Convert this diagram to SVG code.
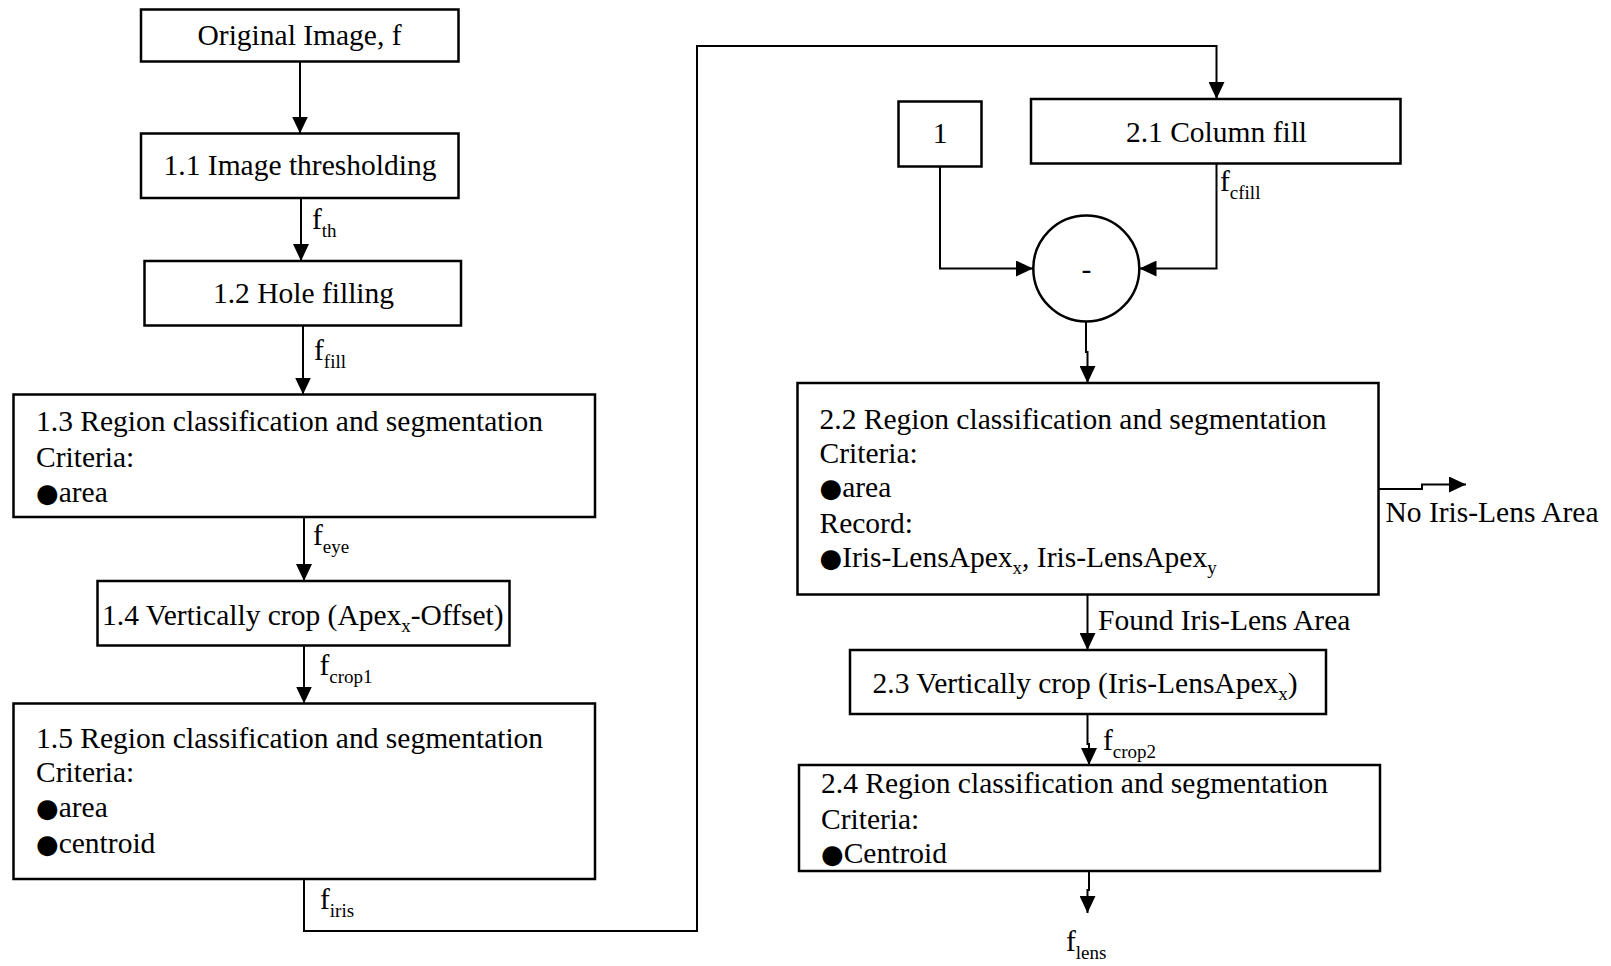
<svg xmlns="http://www.w3.org/2000/svg" width="1611" height="966" viewBox="0 0 1611 966">
  <style>
    .box { fill: #fff; stroke: #000; stroke-width: 2.5; }
    .wire { fill: none; stroke: #000; stroke-width: 2; }
    text { font-family: "Liberation Serif", "Times New Roman", "DejaVu Serif", serif; font-size: 29.5px; fill: #000; }
    .mid { text-anchor: middle; }
    .sub { font-size: 19px; }
    .dot { font-family: "DejaVu Sans", sans-serif; font-size: 26px; }
  </style>
  <defs>
    <marker id="arrow" viewBox="0 0 17 16" markerWidth="17" markerHeight="16" refX="17" refY="8" orient="auto" markerUnits="userSpaceOnUse">
      <path d="M0,0 L17,8 L0,16 z" fill="#000"/>
    </marker>
  </defs>

  <!-- connectors -->
  <g id="connectors" class="wire" marker-end="url(#arrow)">
    <path d="M300,61.5 V133.5"/>
    <path d="M301,198 V261"/>
    <path d="M303,325.5 V394.5"/>
    <path d="M304,517 V581"/>
    <path d="M304,645.5 V703.5"/>
    <path d="M304,879 V931 H697 V46 H1216.5 V99"/>
    <path d="M940,166.5 V268.5 H1033"/>
    <path d="M1216.5,163.5 V268.5 H1139.5"/>
    <path d="M1086,321.5 V352 H1087.5 V383"/>
    <path d="M1379,489 H1422 V484.5 H1466"/>
    <path d="M1087.5,594.5 V650"/>
    <path d="M1087.5,714 V744 H1089 V765"/>
    <path d="M1089,871 V890 H1087.5 V913"/>
  </g>

  <!-- connector labels -->
  <g id="labels">
    <text x="312" y="229">f<tspan class="sub" dy="8">th</tspan></text>
    <text x="314" y="360">f<tspan class="sub" dy="8">fill</tspan></text>
    <text x="313" y="545">f<tspan class="sub" dy="8">eye</tspan></text>
    <text x="319.5" y="675">f<tspan class="sub" dy="8">crop1</tspan></text>
    <text x="320" y="909">f<tspan class="sub" dy="8">iris</tspan></text>
    <text x="1220" y="191">f<tspan class="sub" dy="8">cfill</tspan></text>
    <text x="1385.5" y="521.5">No Iris-Lens Area</text>
    <text x="1098" y="630">Found Iris-Lens Area</text>
    <text x="1103" y="749.5">f<tspan class="sub" dy="8">crop2</tspan></text>
    <text x="1066" y="951">f<tspan class="sub" dy="8">lens</tspan></text>
  </g>

  <g id="n-original">
    <rect class="box" x="141" y="9.5" width="317.5" height="52"/>
    <text class="mid" x="299.5" y="45">Original Image, f</text>
  </g>

  <g id="n-1-1">
    <rect class="box" x="141" y="133.5" width="317.5" height="64.5"/>
    <text class="mid" x="300" y="175">1.1 Image thresholding</text>
  </g>

  <g id="n-1-2">
    <rect class="box" x="144.5" y="261" width="316.5" height="64.5"/>
    <text class="mid" x="303.5" y="303">1.2 Hole filling</text>
  </g>

  <g id="n-1-3">
    <rect class="box" x="13.5" y="394.5" width="581.5" height="122.5"/>
    <text x="36" y="430.5">1.3 Region classification and segmentation</text>
    <text x="36" y="466.7">Criteria:</text>
    <text x="36" y="501.5"><tspan class="dot">●</tspan>area</text>
  </g>

  <g id="n-1-4">
    <rect class="box" x="97.5" y="581" width="412" height="64.5"/>
    <text x="102" y="625">1.4 Vertically crop (Apex<tspan class="sub" dy="7">x</tspan><tspan dy="-7">-Offset)</tspan></text>
  </g>

  <g id="n-1-5">
    <rect class="box" x="13.5" y="703.5" width="581.5" height="175.5"/>
    <text x="36" y="748.2">1.5 Region classification and segmentation</text>
    <text x="36" y="781.9">Criteria:</text>
    <text x="36" y="817.4"><tspan class="dot">●</tspan>area</text>
    <text x="36" y="852.9"><tspan class="dot">●</tspan>centroid</text>
  </g>

  <g id="n-one">
    <rect class="box" x="898.5" y="101.5" width="83" height="65"/>
    <text class="mid" x="940" y="143">1</text>
  </g>

  <g id="n-2-1">
    <rect class="box" x="1031" y="99" width="369.5" height="64.5"/>
    <text class="mid" x="1216.5" y="141.7">2.1 Column fill</text>
  </g>

  <g id="n-minus">
    <ellipse class="box" cx="1086.3" cy="268.5" rx="53" ry="53"/>
    <text class="mid" x="1086.3" y="279">-</text>
  </g>

  <g id="n-2-2">
    <rect class="box" x="797.5" y="383" width="581" height="211.5"/>
    <text x="819.5" y="428.6">2.2 Region classification and segmentation</text>
    <text x="819.5" y="462.8">Criteria:</text>
    <text x="819.5" y="496.9"><tspan class="dot">●</tspan>area</text>
    <text x="819.5" y="533">Record:</text>
    <text x="819.5" y="567.2"><tspan class="dot">●</tspan>Iris-LensApex<tspan class="sub" dy="7">x</tspan><tspan dy="-7">, Iris-LensApex</tspan><tspan class="sub" dy="7">y</tspan></text>
  </g>

  <g id="n-2-3">
    <rect class="box" x="850" y="650" width="476" height="64"/>
    <text x="872.5" y="692.5">2.3 Vertically crop (Iris-LensApex<tspan class="sub" dy="7">x</tspan><tspan dy="-7">)</tspan></text>
  </g>

  <g id="n-2-4">
    <rect class="box" x="799" y="765" width="581" height="106"/>
    <text x="821" y="793.2">2.4 Region classification and segmentation</text>
    <text x="821" y="829.2">Criteria:</text>
    <text x="821" y="863.4"><tspan class="dot">●</tspan>Centroid</text>
  </g>
</svg>
